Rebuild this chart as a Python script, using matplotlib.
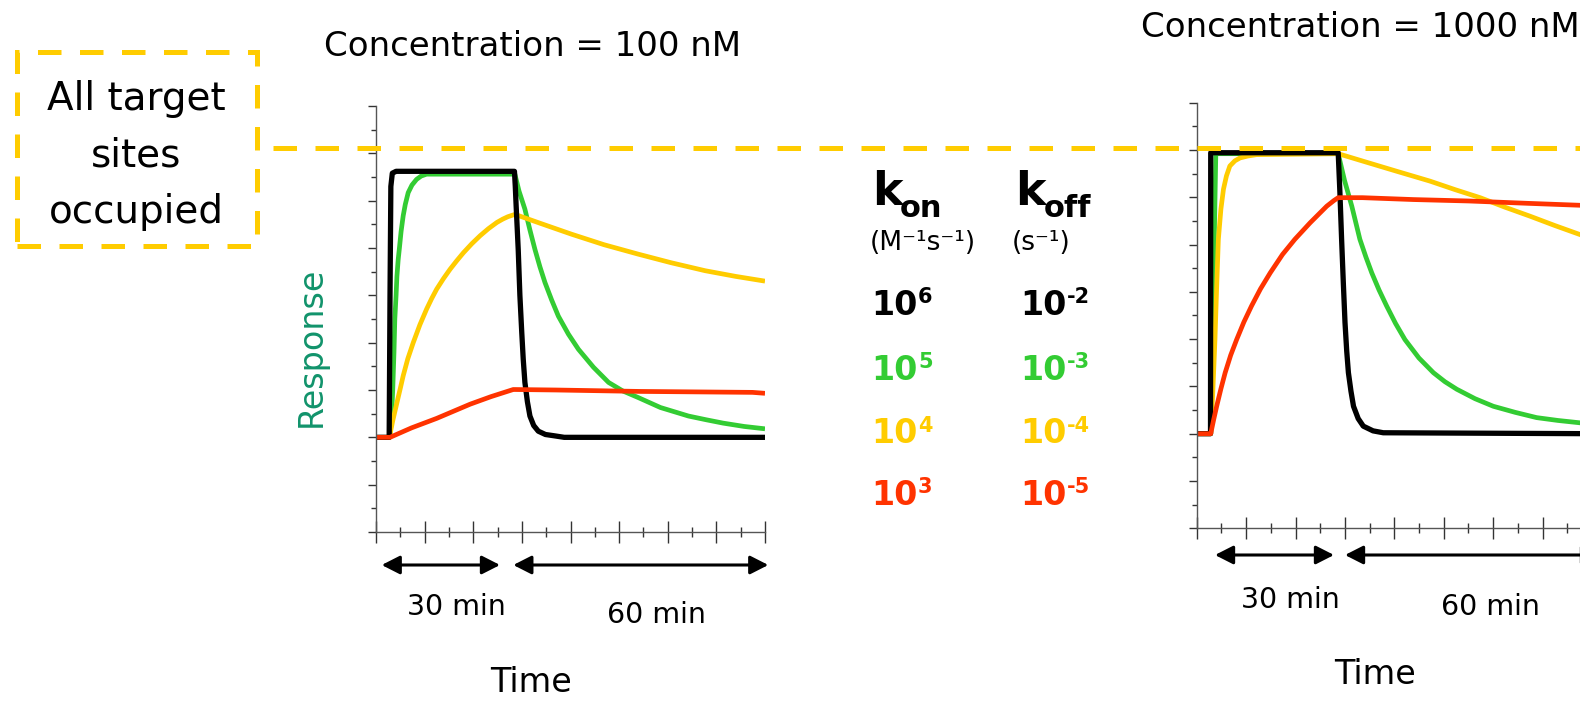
import matplotlib
matplotlib.use('Agg')
import matplotlib.pyplot as plt
import matplotlib.patches as mpatches
import matplotlib.lines as mlines
import numpy as np

# time in minutes (injection at 0, dissociation from 30), response in arbitrary units (baseline 0)
# --- Concentration = 100 nM ---
black_100_t = [-3, 0.15, 0.35, 0.55, 0.9, 1.8, 30.1, 30.3, 30.5, 31.0, 31.4, 31.85, 32.2, 32.6, 33.2,
               33.8, 34.7, 35.8, 37.5, 39.8, 42, 90]
black_100_r = [0, 0, 3.0, 5.3, 5.58, 5.62, 5.62, 5.3, 4.9, 3.97, 3.0, 2.21, 1.65, 1.16, 0.75,
               0.45, 0.25, 0.13, 0.06, 0.03, 0, 0]
green_100_t = [-3, 0.3, 0.7, 1.0, 1.3, 1.5, 1.8, 2.0, 2.3, 2.6, 3.0, 3.5, 4.0, 4.7, 5.6, 6.7, 7.8, 9.1,
               30.2, 31.2, 32.6, 33.8, 35.0, 36.2, 37.4, 39.0, 40.6, 43.0, 45.4, 49.0, 52.6, 56.0,
               59.7, 65.0, 71.7, 76, 80, 85, 90]
green_100_r = [0, 0, 0.4, 1.0, 1.8, 2.5, 3.0, 3.4, 3.75, 4.0, 4.35, 4.68, 4.92, 5.17, 5.33, 5.45, 5.52, 5.56,
               5.56, 5.2, 4.82, 4.38, 3.97, 3.6, 3.27, 2.9, 2.56, 2.18, 1.86, 1.48, 1.16, 0.98,
               0.84, 0.63, 0.45, 0.37, 0.30, 0.23, 0.18]
yellow_100_t = [-3, 0.2, 1.0, 2.0, 2.8, 3.5, 4.6, 5.9, 7.5, 9.1, 10.3, 11.5, 13.1, 14.7, 16.3, 17.9,
                19.9, 21.9, 23.9, 25.9, 27.3, 28.5, 29.5, 30.25, 36, 43.8, 51.5, 59.7, 67.5, 75.7, 83, 90]
yellow_100_r = [0, 0, 0.35, 0.73, 1.03, 1.30, 1.66, 2.0, 2.38, 2.71, 2.93, 3.13, 3.35, 3.55, 3.73, 3.90,
                4.09, 4.26, 4.41, 4.54, 4.61, 4.66, 4.69, 4.71, 4.53, 4.29, 4.07, 3.87, 3.69, 3.52, 3.40, 3.30]
red_100_t = [-3, 0.35, 5.5, 11.5, 15.5, 19.5, 24.5, 29.8, 30.3, 40, 60, 87, 90]
red_100_r = [0, 0, 0.2, 0.40, 0.55, 0.70, 0.86, 1.01, 1.01, 1.0, 0.97, 0.95, 0.93]

# --- Concentration = 1000 nM ---
black_1000_t = [-3, 0.25, 0.3, 30.3, 30.7, 31.1, 31.5, 31.9, 32.3, 32.7, 33.3, 33.9, 35.0, 36.2,
                38.5, 40.9, 90]
black_1000_r = [0, 0, 5.94, 5.94, 5.1, 4.11, 3.2, 2.35, 1.75, 1.29, 0.9, 0.58, 0.32, 0.16,
                0.06, 0.02, 0]
green_1000_t = [-3, 0.3, 1.5, 30.3, 31.8, 33.5, 35.4, 36.8, 38.2, 39.9, 41.7, 43.8, 46.0, 49.3,
                52.7, 55.4, 58.2, 62.5, 66.8, 72, 77.0, 82, 87.2, 90]
green_1000_r = [0, 0, 5.92, 5.92, 5.35, 4.81, 4.11, 3.74, 3.40, 3.04, 2.70, 2.33, 1.99, 1.60,
                1.29, 1.10, 0.94, 0.74, 0.58, 0.45, 0.34, 0.28, 0.23, 0.21]
yellow_1000_t = [-3, 0.3, 0.8, 1.3, 1.7, 2.1, 2.7, 3.3, 4.0, 4.8, 6.0, 7.2, 9.0, 11.1, 30.3,
                 36.2, 44, 51.9, 57.8, 63.7, 69.5, 75.4, 81.3, 87.2, 90]
yellow_1000_r = [0, 0, 0.9, 1.99, 3.1, 4.11, 4.75, 5.17, 5.45, 5.66, 5.77, 5.83, 5.87, 5.90, 5.92,
                 5.76, 5.55, 5.34, 5.16, 4.99, 4.79, 4.60, 4.40, 4.21, 4.13]
red_1000_t = [-3, 0.3, 1.0, 1.7, 2.7, 3.7, 5.0, 6.4, 8.1, 9.9, 12.0, 14.3, 17.2, 20.1, 23.7, 27.6,
              29.3, 30.3, 36, 48, 61, 75, 90]
red_1000_r = [0, 0, 0.3, 0.58, 0.95, 1.29, 1.66, 1.99, 2.36, 2.70, 3.06, 3.40, 3.79, 4.11, 4.46, 4.81,
              4.93, 4.99, 4.99, 4.95, 4.92, 4.87, 4.82]

kon_exp = ['6', '5', '4', '3']
koff_exp = ['-2', '-3', '-4', '-5']
colors = ['#000000', '#33CC33', '#FFCC00', '#FF3300']
titles = ['Concentration = 100 nM', 'Concentration = 1000 nM']

W, H = 1580, 701
YELLOW = '#FFCC00'


def fx(px):
    return px / W


def fy(py):
    return 1 - py / H


fig = plt.figure(figsize=(W / 100, H / 100), dpi=100)

ax1 = fig.add_axes([fx(376), fy(532), 389 / W, 426 / H])
ax2 = fig.add_axes([fx(1196.7), fy(528.3), 395.2 / W, 425.7 / H])


def style_axes(ax):
    ax.set_xlim(-3, 90)
    ax.set_ylim(-2, 7)
    for s in ['top', 'right']:
        ax.spines[s].set_visible(False)
    for s in ['left', 'bottom']:
        ax.spines[s].set_color('#555555')
        ax.spines[s].set_linewidth(1.0)
    ax.set_xticks(np.linspace(-3, 90, 9))
    ax.set_xticks(np.linspace(-3, 90, 17), minor=True)
    ax.set_yticks(np.arange(-2, 8, 1))
    ax.set_yticks(np.arange(-2, 7.5, 0.5), minor=True)
    ax.tick_params(which='both', labelbottom=False, labelleft=False, color='#333333', width=1)
    ax.tick_params(axis='x', which='major', direction='inout', length=16)
    ax.tick_params(axis='x', which='minor', direction='inout', length=7)
    ax.tick_params(axis='y', which='major', direction='out', length=6)
    ax.tick_params(axis='y', which='minor', direction='out', length=3.5)
    ax.patch.set_alpha(0)


panels = [
    (ax1, [(green_100_t, green_100_r), (yellow_100_t, yellow_100_r),
           (black_100_t, black_100_r), (red_100_t, red_100_r)]),
    (ax2, [(green_1000_t, green_1000_r), (yellow_1000_t, yellow_1000_r),
           (black_1000_t, black_1000_r), (red_1000_t, red_1000_r)]),
]
draw_colors = ['#33CC33', YELLOW, '#000000', '#FF3300']
for ax, series in panels:
    style_axes(ax)
    for (t, r), c in zip(series, draw_colors):
        lw = 3.8 if c == '#000000' else 3.4
        ax.plot(t, r, color=c, lw=lw, solid_joinstyle='round', solid_capstyle='butt')

# titles and axis texts
fig.text(fx(533), fy(56), titles[0], ha='center', va='baseline', fontsize=24.5)
fig.text(fx(1141), fy(37), titles[1], ha='left', va='baseline', fontsize=24.5)
fig.text(fx(311), fy(347), 'Response', rotation=90, ha='center', va='center',
         fontsize=24, color='#11936B')
fig.text(fx(531), fy(692), 'Time', ha='center', va='baseline', fontsize=24)
fig.text(fx(1375), fy(684), 'Time', ha='center', va='baseline', fontsize=24)

# time span arrows
arrows = [((381.7, 565), (500, 565)), ((513.3, 565), (768.3, 565)),
          ((1215, 555), (1334, 555)), ((1345, 555), (1600, 555))]
for (x0, y0), (x1, y1) in arrows:
    fig.add_artist(mpatches.FancyArrowPatch(
        (fx(x0), fy(y0)), (fx(x1), fy(y1)), transform=fig.transFigure,
        arrowstyle='<|-|>,head_length=0.55,head_width=0.28', mutation_scale=20,
        lw=2.2, color='black', shrinkA=0, shrinkB=0))
span_texts = [('30 min', 456.7, 615), ('60 min', 656.7, 623.3),
              ('30 min', 1290.8, 608.3), ('60 min', 1490.8, 615)]
for s, x, y in span_texts:
    fig.text(fx(x), fy(y), s, ha='center', va='baseline', fontsize=20.5)

# "all target sites occupied" box and dashed level
dash = (0, (4.7, 3.7))
fig.add_artist(mpatches.Rectangle((fx(17), fy(245.5)), 240 / W, 193.5 / H,
                                  transform=fig.transFigure, fill=False,
                                  edgecolor=YELLOW, lw=3.6, linestyle=dash))
fig.add_artist(mlines.Line2D([fx(273), 1.0], [fy(148.3), fy(148.3)],
                             transform=fig.transFigure, color=YELLOW, lw=3.6,
                             linestyle=dash, zorder=5))
for s, y in [('All target', 110), ('sites', 166.7), ('occupied', 223.3)]:
    fig.text(fx(136), fy(y), s, ha='center', va='baseline', fontsize=28)

# rate constant legend
fig.text(fx(871.7), fy(205), 'k', fontsize=33, fontweight='bold', va='baseline')
fig.text(fx(900), fy(216.7), 'on', fontsize=22, fontweight='bold', va='baseline')
fig.text(fx(1015), fy(205), 'k', fontsize=33, fontweight='bold', va='baseline')
fig.text(fx(1043.3), fy(216.7), 'off', fontsize=22, fontweight='bold', va='baseline')
fig.text(fx(870), fy(250), '(M⁻¹s⁻¹)', fontsize=19, va='baseline')
fig.text(fx(1011.7), fy(250), '(s⁻¹)', fontsize=19, va='baseline')
row_y = [315, 380, 443.3, 505]
for ke, kd, c, y in zip(kon_exp, koff_exp, colors, row_y):
    fig.text(fx(871.7), fy(y), '10', fontsize=24, fontweight='bold', color=c, va='baseline')
    fig.text(fx(918), fy(y - 11.7), ke, fontsize=15, fontweight='bold', color=c, va='baseline')
    fig.text(fx(1020), fy(y), '10', fontsize=24, fontweight='bold', color=c, va='baseline')
    fig.text(fx(1066.5), fy(y - 11.7), kd, fontsize=15, fontweight='bold', color=c, va='baseline')

fig.savefig('out.png', dpi=100)
